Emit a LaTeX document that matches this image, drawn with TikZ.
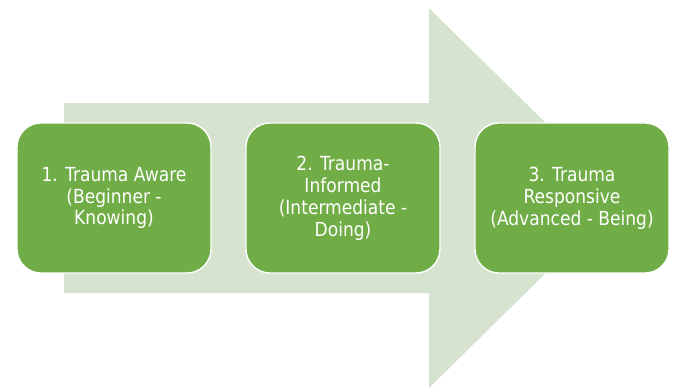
\documentclass[tikz,border=0pt]{standalone}
\usepackage{fontspec}
\setmainfont[FakeStretch=0.88]{DejaVu Sans}
\usetikzlibrary{math}
\definecolor{mygreen}{RGB}{112,173,71}
\definecolor{mylight}{RGB}{214,227,207}

\begin{document}
\begin{tikzpicture}[x=0.025cm,y=-0.025cm,
  stage/.style={draw=white,line width=1pt,fill=mygreen,rounded corners=0.6cm,
    minimum width=4.85cm,minimum height=3.75cm,text=white,align=center,
    font=\fontsize{13.8}{15.6}\selectfont}]
\tikzmath{
\xs=64;%shaft start
\xb=429;%head base
\xt=622;%tip
\ys=103;%shaft top
\yS=293;%shaft bottom
\yh=8;%head top
\yH=388;%head bottom
\ym=198;%middle
}
\useasboundingbox (0,0) rectangle (680,391);

\fill[mylight] (\xs,\ys) -- (\xb,\ys) -- (\xb,\yh) -- (\xt,\ym) -- (\xb,\yH) -- (\xb,\yS) -- (\xs,\yS) -- cycle;

\node[stage] (aware) at (114,\ym) {1. Trauma Aware\\(Beginner -\\Knowing)};
\node[stage] (informed) at (343,\ym) {2. Trauma-\\Informed\\(Intermediate -\\Doing)};
\node[stage] (responsive) at (572,\ym) {3. Trauma\\Responsive\\(Advanced - Being)};
\end{tikzpicture}
\end{document}
